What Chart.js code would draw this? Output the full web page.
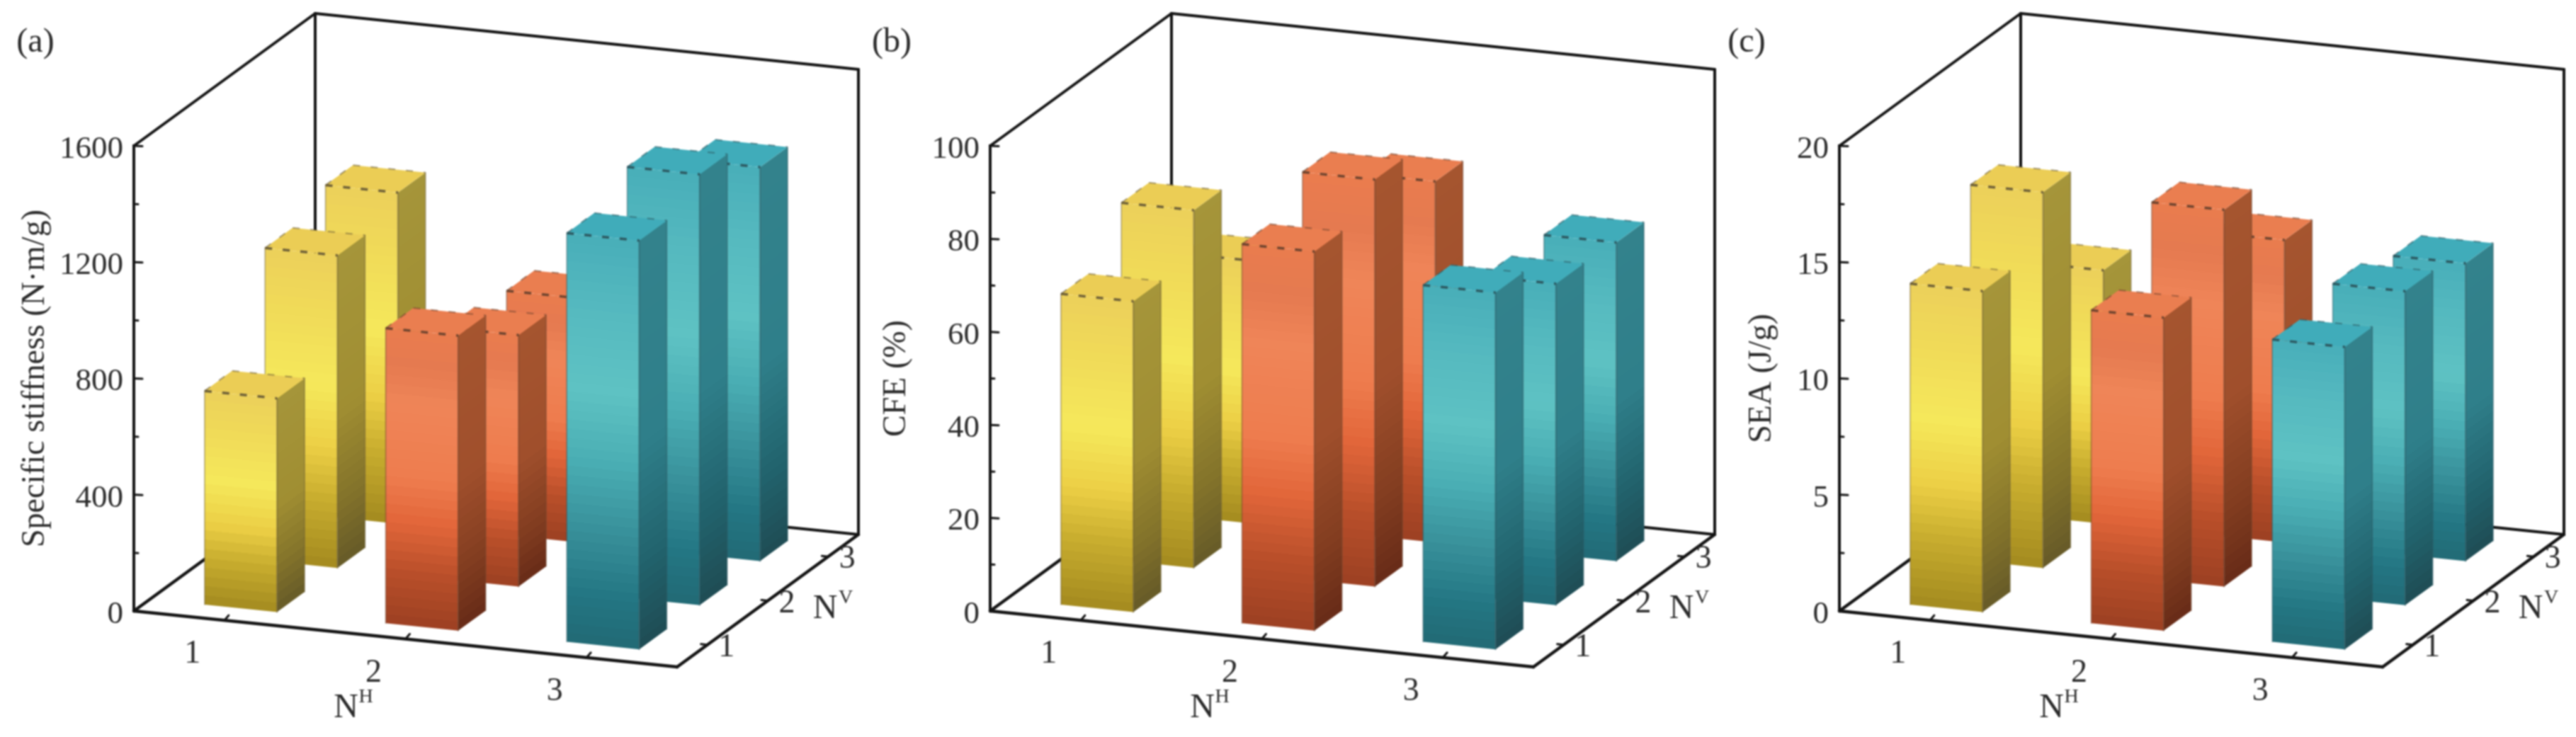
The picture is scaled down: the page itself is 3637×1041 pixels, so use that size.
<!DOCTYPE html>
<html><head><meta charset="utf-8">
<style>
html,body{margin:0;padding:0;background:#fff;width:3637px;height:1041px;overflow:hidden}
.p{position:absolute;top:0;width:1229px;height:1041px}
canvas{filter:blur(0.9px)}
</style>
<script src="https://cdn.jsdelivr.net/npm/chart.js@4"></script>
</head><body>
<div class="p" style="left:0"><canvas id="a" width="1229" height="1041"></canvas></div>
<div class="p" style="left:1209px"><canvas id="b" width="1229" height="1041"></canvas></div>
<div class="p" style="left:2408px"><canvas id="c" width="1229" height="1041"></canvas></div>
<script>
const categoriesNH = ['1','2','3'];
const categoriesNV = ['1','2','3'];
// values: one array per N^V row, ordered by N^H = 1,2,3
const stiffnessNV1 = [735, 1015, 1406];
const stiffnessNV2 = [1075, 865, 1482];
const stiffnessNV3 = [1139, 840, 1355];
const cfeNV1 = [66.8, 81.5, 76.7];
const cfeNV2 = [76.9, 87.5, 69.1];
const cfeNV3 = [56.5, 77.6, 68.5];
const seaNV1 = [13.8, 13.46, 13.0];
const seaNV2 = [16.15, 16.2, 13.5];
const seaNV3 = [10.9, 13.0, 12.8];

const FONT = '"Liberation Serif","Times New Roman",serif';
const TXT = '#2b2b2b', LINE = '#141414';
const SLOPE_Y = 79;                 // screen drop across full N^H axis
const DEPTH = {x:256, y:-187};      // screen shift across full N^V axis
const BAR_X = 0.2, BAR_Z = 0.228;   // half-sizes in category units

const frontStops = [
 [[0,'#ecd05a'],[.18,'#f0da58'],[.42,'#f5e85b'],[.62,'#eccf45'],[.78,'#c9ae2f'],[1,'#a38a1f']],
 [[0,'#ea7c4e'],[.12,'#e57a50'],[.25,'#ef8558'],[.5,'#ee7c4e'],[.65,'#e2663a'],[.82,'#b94f2a'],[1,'#9c4022']],
 [[0,'#48aeb9'],[.18,'#55b9bf'],[.38,'#5ec2c3'],[.55,'#4aaeb4'],[.72,'#38909a'],[.88,'#237683'],[1,'#226a75']]
];
const sideStops = [
 [[0,'#a5953a'],[.5,'#a08e32'],[.8,'#82722a'],[1,'#665a28']],
 [[0,'#a5552f'],[.5,'#a04f2c'],[.8,'#823d20'],[1,'#672b17']],
 [[0,'#33828c'],[.5,'#2f7f8a'],[.8,'#21626c'],[1,'#1f4c54']]
];
const topColors = ['#ebcd55','#ea7e50','#40acba'];
const dashColors = ['#6f6138','#70452f','#2d5a62'];

function hex(c){return [1,3,5].map(i=>parseInt(c.substr(i,2),16));}
function sample(st,t){
  for(let i=1;i<st.length;i++){
    if(t<=st[i][0]){
      const f=(t-st[i-1][0])/(st[i][0]-st[i-1][0]),a=hex(st[i-1][1]),b=hex(st[i][1]);
      return 'rgb('+a.map((v,k)=>Math.round(v+(b[k]-v)*f)).join(',')+')';
    }
  }
  return st[st.length-1][1];
}
function slantGradient(ctx,P,E,H,stops){
  const l=Math.hypot(E.x,E.y), nx=-E.y/l, ny=E.x/l, L=H*ny;
  const g=ctx.createLinearGradient(P.x,P.y,P.x+nx*L,P.y+ny*L);
  const N=Math.max(10,Math.round(H/13));
  for(let i=0;i<N;i++){
    const c=sample(stops,(i+.5)/N);
    g.addColorStop(i/N,c); g.addColorStop((i+1)/N,c);
  }
  return g;
}
function poly(ctx,pts,fill){
  ctx.beginPath();pts.forEach((p,i)=>i?ctx.lineTo(p.x,p.y):ctx.moveTo(p.x,p.y));ctx.closePath();
  ctx.fillStyle=fill;ctx.fill();
}
function seg(ctx,a,b,w,c){
  ctx.beginPath();ctx.moveTo(a.x,a.y);ctx.lineTo(b.x,b.y);ctx.lineWidth=w;ctx.strokeStyle=c;ctx.stroke();
}
const box3d = {
  id:'box3d',
  beforeDatasetsDraw(chart){
    const {ctx,chartArea:A,scales:{x,y,z}}=chart;
    const w=A.right-A.left;
    const pr=(xp,zp,yp)=>{
      const xf=(xp-A.left)/w, zf=(zp-A.left)/w;
      return {x:xp+zf*DEPTH.x, y:yp+xf*SLOPE_Y+zf*DEPTH.y};
    };
    const xL=A.left,xR=A.right,zF=A.left,zB=A.right,y0=y.getPixelForValue(y.min),yT=y.getPixelForValue(y.max);
    ctx.save();
    ctx.lineCap='round';
    // cage
    seg(ctx,pr(xL,zF,yT),pr(xL,zB,yT),4,LINE);
    seg(ctx,pr(xL,zB,yT),pr(xR,zB,yT),4,LINE);
    seg(ctx,pr(xR,zB,yT),pr(xR,zB,y0),4,LINE);
    seg(ctx,pr(xL,zB,yT),pr(xL,zB,y0),4,LINE);
    seg(ctx,pr(xL,zB,y0),pr(xR,zB,y0),4,LINE);
    seg(ctx,pr(xL,zF,y0),pr(xL,zB,y0),4.5,LINE);
    seg(ctx,pr(xL,zF,y0),pr(xR,zF,y0),4.5,LINE);
    seg(ctx,pr(xR,zF,y0),pr(xR,zB,y0),4.5,LINE);
    // y ticks point inward
    y.ticks.forEach((t,i)=>{
      const p=y.getPixelForValue(t.value), len=i%2?6:12;
      seg(ctx,{x:xL,y:p},{x:xL+len,y:p+len*.05},3,LINE);
    });
    // floor ticks + labels
    ctx.font='46px '+FONT;ctx.fillStyle=TXT;ctx.textAlign='center';ctx.textBaseline='middle';
    categoriesNH.forEach((c,i)=>{
      const px=x.getPixelForValue(i),a=pr(px,zF,y0),d=a;
      seg(ctx,d,{x:d.x+6,y:d.y-7},3,LINE);
      ctx.fillText(c,a.x-45,a.y+48);
    });
    categoriesNV.forEach((c,i)=>{
      const pz=z.getPixelForValue(i),a=pr(xR,pz,y0);
      seg(ctx,a,{x:a.x-9,y:a.y-1},3,LINE);
      ctx.fillText(c,a.x+27,a.y+4);
    });
    // axis names
    const nh=pr((xL+xR)/2,zF,y0), nv=pr(xR,(zF+zB)/2,y0);
    ctx.font='48px '+FONT;
    ctx.fillText('N',nh.x-84,nh.y+98);
    ctx.fillText('N',nv.x+81,nv.y+12);
    ctx.font='28px '+FONT;
    ctx.fillText('H',nh.x-56,nh.y+82);
    ctx.fillText('V',nv.x+110,nv.y-4);
    // panel letter
    ctx.font='48px '+FONT;
    ctx.fillText(chart.options.plugins.box3d.letter,chart.options.plugins.box3d.letterX,60);
    // bars, back row first
    const col=[...chart.data.datasets.keys()].reverse();
    col.forEach(di=>{
      const ds=chart.data.datasets[di];
      ds.data.forEach((val,ci)=>{
        const x0=x.getPixelForValue(ci-BAR_X),x1=x.getPixelForValue(ci+BAR_X);
        const z0=z.getPixelForValue(di-BAR_Z),z1=z.getPixelForValue(di+BAR_Z);
        const t=y.getPixelForValue(val), H=y0-t;
        const fTL=pr(x0,z0,t),fTR=pr(x1,z0,t),fBL=pr(x0,z0,y0),fBR=pr(x1,z0,y0);
        const bTL=pr(x0,z1,t),bTR=pr(x1,z1,t),bBR=pr(x1,z1,y0);
        const ex={x:fTR.x-fTL.x,y:fTR.y-fTL.y}, ez={x:bTR.x-fTR.x,y:bTR.y-fTR.y};
        poly(ctx,[fTL,fTR,fBR,fBL],slantGradient(ctx,fTL,ex,H,frontStops[ci]));
        poly(ctx,[fTR,bTR,bBR,fBR],slantGradient(ctx,fTR,ez,H,sideStops[ci]));
        poly(ctx,[fTL,fTR,bTR,bTL],topColors[ci]);
        // edges
        ctx.globalAlpha=.55;
        seg(ctx,fTL,fBL,1.5,dashColors[ci]);
        seg(ctx,fTR,fBR,2,dashColors[ci]);
        seg(ctx,bTR,bBR,1.5,dashColors[ci]);
        ctx.globalAlpha=1;
        ctx.lineCap='butt';
        ctx.setLineDash([10,15]);
        seg(ctx,fTL,fTR,3.5,dashColors[ci]);
        ctx.globalAlpha=.6;
        seg(ctx,bTL,bTR,2,dashColors[ci]);
        seg(ctx,fTL,bTL,2,dashColors[ci]);
        ctx.globalAlpha=1;
        ctx.setLineDash([]);
        ctx.lineCap='round';
      });
    });
    ctx.restore();
    return false;
  }
};
function panel(id,cfg){
  new Chart(document.getElementById(id),{
    type:'bar',
    data:{labels:categoriesNH,datasets:cfg.rows.map((d,i)=>({label:'NV='+categoriesNV[i],data:d}))},
    plugins:[box3d],
    options:{
      responsive:false,animation:false,
      layout:{padding:{left:0,top:206,right:273,bottom:178}},
      plugins:{legend:{display:false},tooltip:{enabled:false},box3d:{letter:cfg.letter,letterX:cfg.letterX}},
      scales:{
        x:{type:'category',offset:true,display:false},
        z:{type:'category',axis:'x',labels:categoriesNV,offset:true,display:false},
        y:{
          type:'linear',min:0,max:cfg.max,position:'left',
          afterFit(s){s.width=189;},
          border:{display:true,color:LINE,width:4},
          grid:{drawOnChartArea:false,drawTicks:false},
          ticks:{stepSize:cfg.step,autoSkip:false,padding:15,labelOffset:5,color:TXT,
            font:{family:FONT,size:45},
            callback:v=>(Math.round(v/cfg.step)%2===0?String(v):'')},
          title:{display:true,text:cfg.title,color:TXT,font:{family:FONT,size:46},padding:{top:cfg.titlePad,bottom:0}}
        }
      }
    }
  });
}
panel('a',{rows:[stiffnessNV1,stiffnessNV2,stiffnessNV3],max:1600,step:200,title:'Specific stiffness (N·m/g)',letter:'(a)',letterX:50,titlePad:22});
panel('b',{rows:[cfeNV1,cfeNV2,cfeNV3],max:100,step:10,title:'CFE (%)',letter:'(b)',letterX:50,titlePad:29});
panel('c',{rows:[seaNV1,seaNV2,seaNV3],max:20,step:2.5,title:'SEA (J/g)',letter:'(c)',letterX:58,titlePad:52});
</script>
</body></html>
